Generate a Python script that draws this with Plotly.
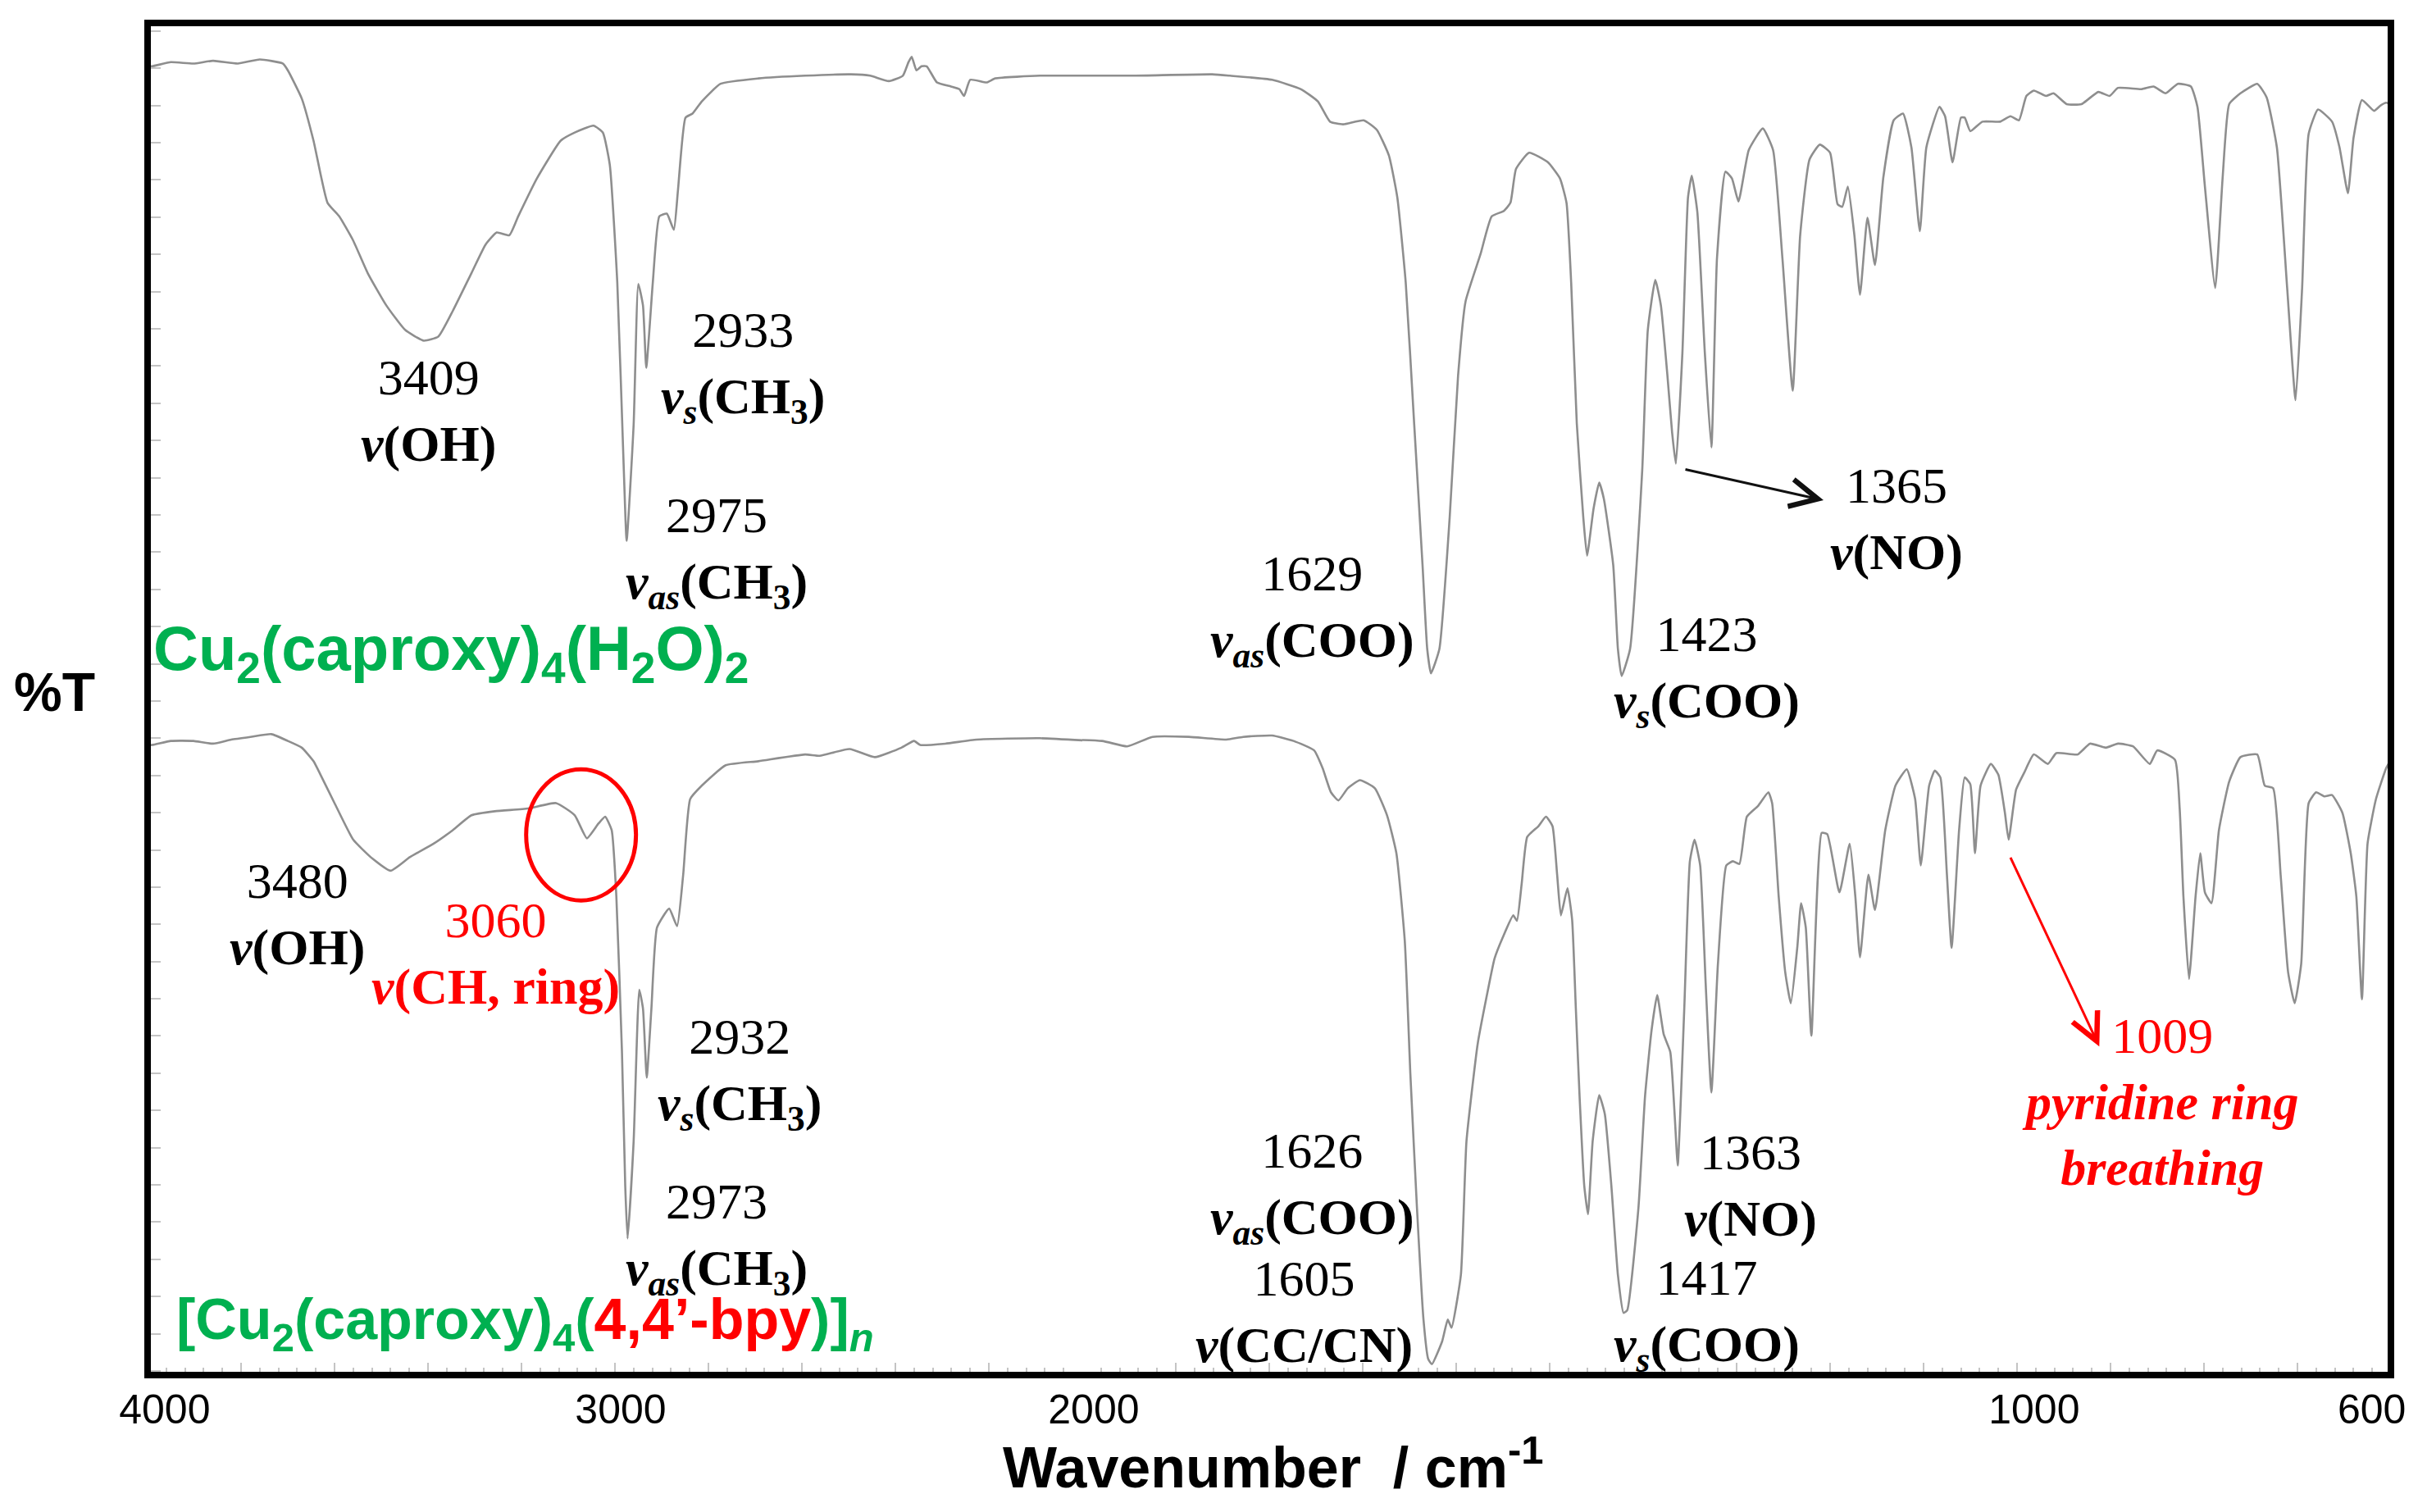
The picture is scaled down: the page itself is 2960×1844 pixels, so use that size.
import plotly.graph_objects as go

# ---------------- data ----------------
# upper spectrum: Cu2(caproxy)4(H2O)2
wn_top = [4000, 3990, 3950, 3902, 3860, 3807, 3760, 3711, 3700, 3670, 3645, 3615, 3590, 3560,
          3529, 3489, 3449, 3409, 3378, 3347, 3307, 3277, 3253, 3226, 3207, 3167, 3116, 3086,
          3046, 3026, 3011, 2995, 2981, 2975, 2960, 2950, 2940, 2933, 2919, 2905, 2889, 2874,
          2865, 2849, 2834, 2814, 2774, 2693, 2593, 2495, 2454, 2414, 2384, 2372, 2365, 2355,
          2344, 2333, 2311, 2281, 2263, 2253, 2240, 2205, 2186, 2091, 2025, 1945, 1861, 1842,
          1797, 1766, 1748, 1735, 1721, 1699, 1685, 1672, 1663, 1654, 1645, 1636, 1631, 1627,
          1618, 1607, 1598, 1590, 1574, 1562, 1549, 1542, 1536, 1522, 1502, 1489, 1482, 1477,
          1471, 1464, 1460, 1453, 1447, 1442, 1432, 1427, 1423, 1414, 1401, 1395, 1387, 1381,
          1374, 1369, 1365, 1358, 1352, 1348, 1342, 1334, 1327, 1321, 1312, 1305, 1298, 1287,
          1272, 1261, 1251, 1240, 1232, 1222, 1211, 1200, 1192, 1187, 1181, 1174, 1168, 1160,
          1152, 1143, 1132, 1122, 1113, 1104, 1097, 1083, 1077, 1069, 1060, 1056, 1050, 1037,
          1018, 1007, 998, 990, 982, 969, 961, 947, 931, 913, 901, 892, 867, 854, 841, 828,
          814, 807, 799, 788, 780, 773, 761, 743, 733, 722, 711, 702, 695, 688, 678, 663, 655,
          646, 640, 631, 618, 611, 605, 600]
t_top = [96.8, 96.8, 97.1, 97.0, 97.2, 97.0, 97.3, 97.0, 96.5, 94.4, 91.3, 86.7, 85.7, 83.9,
         81.5, 79.1, 77.3, 76.5, 76.8, 78.7, 81.5, 83.6, 84.5, 84.3, 85.7, 88.5, 91.3, 91.9,
         92.4, 91.9, 89.5, 80.8, 66.9, 61.7, 70.3, 80.7, 79.1, 74.5, 80.8, 85.7, 85.9, 84.7,
         87.7, 93.0, 93.3, 94.2, 95.5, 95.9, 96.1, 96.2, 96.1, 95.7, 96.1, 97.1, 97.5, 96.5,
         96.8, 96.8, 95.6, 95.3, 95.1, 94.6, 95.8, 95.6, 95.9, 96.1, 96.1, 96.1, 96.2, 96.1,
         95.8, 95.1, 94.2, 92.7, 92.5, 92.8, 92.1, 90.2, 87.1, 80.8, 70.4, 59.9, 53.7, 51.9,
         53.7, 63.4, 73.9, 79.4, 82.9, 85.7, 86.1, 86.7, 89.2, 90.4, 89.7, 88.5, 86.7, 80.8,
         70.4, 63.4, 60.6, 64.1, 66.0, 64.8, 59.9, 53.7, 51.7, 53.7, 66.9, 77.3, 81.0, 79.1,
         73.9, 69.7, 67.4, 75.6, 87.1, 88.7, 86.0, 75.6, 68.6, 82.6, 89.0, 88.5, 86.8, 90.6,
         92.2, 90.6, 82.6, 72.8, 84.3, 89.9, 91.0, 90.4, 86.6, 86.4, 87.9, 84.3, 79.9, 85.6,
         82.1, 88.6, 92.8, 93.3, 90.8, 84.6, 90.8, 93.8, 93.1, 89.7, 93.0, 93.0, 92.0, 92.7,
         92.7, 93.1, 92.8, 94.6, 95.0, 94.6, 94.8, 94.0, 94.0, 94.9, 94.6, 95.2, 95.1, 95.3,
         94.8, 95.5, 95.3, 93.8, 87.9, 80.4, 88.6, 94.0, 94.8, 95.5, 94.5, 90.8, 80.4, 72.1,
         80.4, 91.8, 93.6, 92.7, 90.8, 87.4, 91.5, 94.3, 93.5, 93.9, 94.1, 94.0]

# lower spectrum: [Cu2(caproxy)4(4,4'-bpy)]n
wn_bot = [4000, 3990, 3950, 3902, 3860, 3821, 3780, 3735, 3700, 3670, 3645, 3630, 3600, 3560,
          3519, 3480, 3439, 3388, 3347, 3307, 3257, 3186, 3126, 3086, 3060, 3035, 3021, 3007,
          2997, 2985, 2978, 2973, 2960, 2948, 2940, 2932, 2922, 2910, 2884, 2867, 2854, 2839,
          2814, 2763, 2693, 2593, 2562, 2498, 2444, 2387, 2360, 2347, 2293, 2226, 2091, 1979,
          1952, 1925, 1886, 1846, 1828, 1797, 1774, 1752, 1743, 1734, 1726, 1716, 1703, 1687,
          1674, 1664, 1655, 1649, 1642, 1635, 1630, 1626, 1615, 1609, 1605, 1595, 1589, 1577,
          1568, 1559, 1550, 1539, 1535, 1530, 1524, 1512, 1504, 1497, 1492, 1488, 1481, 1476,
          1472, 1468, 1463, 1459, 1454, 1447, 1441, 1434, 1427, 1421, 1417, 1405, 1398, 1391,
          1385, 1378, 1371, 1366, 1363, 1356, 1350, 1345, 1339, 1333, 1327, 1320, 1311, 1304,
          1297, 1289, 1277, 1266, 1262, 1255, 1248, 1242, 1235, 1231, 1226, 1220, 1209, 1203,
          1190, 1179, 1173, 1168, 1159, 1152, 1141, 1130, 1118, 1109, 1103, 1094, 1088, 1082,
          1075, 1070, 1062, 1056, 1050, 1045, 1039, 1028, 1020, 1013, 1009, 1001, 992, 982,
          967, 958, 935, 922, 905, 892, 876, 858, 850, 831, 826, 822, 816, 809, 804, 799, 792,
          784, 773, 761, 743, 735, 726, 718, 710, 703, 696, 688, 680, 671, 663, 652, 643, 637,
          631, 625, 616, 605, 600]
t_bot = [46.6, 46.6, 46.9, 46.9, 46.7, 47.0, 47.2, 47.4, 46.9, 46.4, 45.4, 44.4, 42.3, 39.6,
         38.2, 37.3, 38.3, 39.3, 40.3, 41.4, 41.7, 41.9, 42.3, 41.4, 39.7, 40.8, 41.3, 40.3,
         35.4, 23.9, 14.0, 10.1, 17.3, 28.5, 27.1, 22.0, 27.1, 33.1, 34.5, 33.2, 37.0, 42.6,
         43.6, 45.1, 45.4, 45.9, 45.8, 46.3, 45.7, 46.4, 46.9, 46.6, 46.7, 47.0, 47.1, 46.9,
         46.5, 47.2, 47.2, 47.0, 47.2, 47.3, 46.9, 46.2, 44.9, 43.1, 42.5, 43.4, 44.0, 43.4,
         41.4, 38.6, 32.1, 22.2, 12.4, 4.1, 1.2, 0.8, 2.5, 4.1, 3.5, 7.4, 17.3, 24.5,
         27.8, 30.8, 32.4, 34.0, 33.6, 36.3, 39.8, 40.6, 41.3, 40.6, 37.0, 34.0, 36.0, 33.7,
         27.1, 20.6, 14.0, 11.9, 17.3, 20.7, 19.3, 14.0, 7.4, 4.6, 4.8, 12.4, 20.6, 25.5,
         28.1, 25.2, 23.9, 18.9, 15.5, 27.1, 38.0, 39.6, 37.7, 28.8, 20.9, 30.4, 37.7, 38.0,
         37.8, 41.3, 42.1, 43.1, 42.3, 35.4, 29.8, 27.5, 31.7, 34.9, 33.1, 25.1, 40.1, 40.0,
         35.7, 39.3, 35.4, 30.9, 37.0, 34.4, 40.3, 43.6, 44.8, 42.6, 37.7, 43.6, 44.7, 44.2,
         37.0, 31.6, 40.3, 44.2, 43.7, 38.6, 43.6, 45.2, 44.4, 41.6, 39.6, 43.3, 44.6, 45.9,
         45.2, 46.0, 45.9, 46.7, 46.4, 46.7, 46.5, 45.2, 46.2, 45.5, 41.9, 35.4, 29.3, 35.4,
         38.6, 35.7, 34.9, 40.3, 43.9, 45.7, 45.9, 43.6, 43.4, 37.0, 29.8, 27.5, 30.4, 42.3,
         43.1, 42.8, 42.9, 41.6, 38.6, 35.4, 27.8, 39.3, 42.6, 44.9, 45.5]

x_labels_hi = [4000, 3000, 2000]   # labelled ticks, 4000-2000 section
x_labels_lo = [1000]               # labelled tick, 2000-600 section (scale expanded x2)
x_label_end = 600                  # right end of the axis, written just inside the frame

SPLIT = 2000
LINE = "#8e8e8e"
TICK = "#c4c4c4"
SERIF = "Liberation Serif, Times New Roman, serif"
SANS = "Liberation Sans, Arial, sans-serif"
GREEN = "#00B050"
RED = "#FF0000"
NB = "\u00a0"
# the labels in the reference sit slightly off their ticks; pad with no-break spaces
pad_hi = {4000: 3, 3000: 1, 2000: 2}
pad_lo = {1000: 3}


def split(wn, t):
    hi = [i for i, w in enumerate(wn) if w >= SPLIT]
    lo = [i for i, w in enumerate(wn) if w <= SPLIT]
    e = min(hi[-1] + 1, len(wn) - 1)
    s = max(lo[0] - 1, 0)
    return (wn[:e + 1], t[:e + 1]), (wn[s:], t[s:])


fig = go.Figure()
for wn, t in [(wn_top, t_top), (wn_bot, t_bot)]:
    (wa, ta), (wb, tb) = split(wn, t)
    for xa, xs, ys in [("x", wa, ta), ("x2", wb, tb)]:
        fig.add_trace(go.Scatter(x=xs, y=ys, xaxis=xa, yaxis="y", mode="lines",
                                 line=dict(color=LINE, width=2.6, shape="spline", smoothing=0.45),
                                 hoverinfo="skip", showlegend=False))

D = 5 / 12  # 4000-2000 occupies 2 units, 2000-600 occupies 2.8 units (x2 expansion)

base = dict(ticks="inside", tickcolor=TICK, tickwidth=2, ticklen=15, showgrid=False,
            zeroline=False, showline=False, anchor="y", automargin=False)
lab_font = dict(family=SANS, size=50, color="black")
fig.update_layout(
    # labelled axes
    xaxis=dict(domain=[0, D], range=[4000, 2000], tickmode="array", tickvals=x_labels_hi,
               ticktext=[NB * pad_hi[v] + str(v) for v in x_labels_hi], tickfont=lab_font,
               ticklabelstandoff=8, ticklabeloverflow="allow",
               minor=dict(tickmode="linear", tick0=0, dtick=40, ticks="inside", ticklen=9,
                          tickcolor=TICK, tickwidth=2, showgrid=False), **base),
    xaxis2=dict(domain=[D, 1], range=[2000, 600], tickmode="array", tickvals=x_labels_lo,
                ticktext=[NB * pad_lo[v] + str(v) for v in x_labels_lo], tickfont=lab_font,
                ticklabelstandoff=8, ticklabeloverflow="allow",
                minor=dict(tickmode="linear", tick0=0, dtick=20, ticks="inside", ticklen=9,
                           tickcolor=TICK, tickwidth=2, showgrid=False), **base),
    # unlabelled long ticks
    xaxis3=dict(overlaying="x", range=[4000, 2000], tickmode="linear", tick0=0, dtick=200,
                showticklabels=False, **base),
    xaxis4=dict(overlaying="x2", range=[2000, 600], tickmode="linear", tick0=0, dtick=100,
                showticklabels=False, **base),
    yaxis=dict(domain=[0, 1], range=[0, 100], anchor="x", showticklabels=False,
               ticks="inside", tickmode="linear", tick0=0.3, dtick=2.753, ticklen=16,
               tickcolor=TICK, tickwidth=2, showgrid=False, zeroline=False, showline=False,
               automargin=False),
    # the page body keeps an 8 px margin: plot area lands at x 180-2916, y 28-1677 of the window
    width=2960, height=1844,
    margin=dict(l=172, r=52, t=20, b=175),
    paper_bgcolor="white", plot_bgcolor="white",
)
# invisible helper traces so the overlay tick axes are drawn
fig.add_trace(go.Scatter(x=[3000], y=[50], xaxis="x3", yaxis="y", mode="markers",
                         marker=dict(opacity=0), hoverinfo="skip", showlegend=False))
fig.add_trace(go.Scatter(x=[1000], y=[50], xaxis="x4", yaxis="y", mode="markers",
                         marker=dict(opacity=0), hoverinfo="skip", showlegend=False))

# end label of the axis (600), right-aligned so it stays inside the picture
fig.add_annotation(xref="x2", yref="paper", x=x_label_end, y=-0.0255, xanchor="right",
                   yanchor="middle", showarrow=False, text=str(x_label_end), xshift=20,
                   font=lab_font)

# frame
fig.add_shape(type="rect", xref="paper", yref="paper", x0=0, x1=1, y0=0, y1=1,
              line=dict(color="black", width=8), layer="above")
# red circle around the 3060 band
fig.add_shape(type="circle", xref="x", yref="y", x0=3190, x1=2955, y0=35.1, y1=44.8,
              line=dict(color=RED, width=5))

NU = "<i>ν</i>"


def lab(core, sub=None):
    s = NU + (f"<sub><i>{sub}</i></sub>" if sub else "")
    return f"<b>{s}{core}</b>"


CH3 = "(CH<sub>3</sub>)"
notes = [
    # (axis, wn, T, text, colour)
    ("x", 3400, 71.3, "3409<br>" + lab("(OH)"), "black"),
    ("x", 2726, 74.6, "2933<br>" + lab(CH3, "s"), "black"),
    ("x", 2782, 60.9, "2975<br>" + lab(CH3, "as"), "black"),
    ("x2", 1754, 56.6, "1629<br>" + lab("(COO)", "as"), "black"),
    ("x2", 1332, 52.1, "1423<br>" + lab("(COO)", "s"), "black"),
    ("x2", 1129, 63.3, "1365<br>" + lab("(NO)"), "black"),
    ("x", 3680, 34.1, "3480<br>" + lab("(OH)"), "black"),
    ("x", 3256, 31.2, "3060<br>" + lab("(CH, ring)"), RED),
    ("x", 2733, 22.3, "2932<br>" + lab(CH3, "s"), "black"),
    ("x", 2782, 10.1, "2973<br>" + lab(CH3, "as"), "black"),
    ("x2", 1754, 13.9, "1626<br>" + lab("(COO)", "as"), "black"),
    ("x2", 1763, 4.7, "1605<br>" + lab("(CC/CN)"), "black"),
    ("x2", 1285, 14.0, "1363<br>" + lab("(NO)"), "black"),
    ("x2", 1332, 4.5, "1417<br>" + lab("(COO)", "s"), "black"),
    ("x2", 847, 20.2, "1009<br><b><i>pyridine ring<br>breathing</i></b>", RED),
]
for ax, x, y, txt, col in notes:
    fig.add_annotation(xref=ax, yref="y", x=x, y=y, text=txt, showarrow=False,
                       font=dict(family=SERIF, size=62, color=col), align="center",
                       xanchor="center", yanchor="middle")

# compound names
fig.add_annotation(xref="x", yref="y", x=3992, y=53.4, xanchor="left", yanchor="middle",
                   showarrow=False,
                   text="<b>Cu<sub>2</sub>(caproxy)<sub>4</sub>(H<sub>2</sub>O)<sub>2</sub></b>",
                   font=dict(family=SANS, size=76, color=GREEN))
fig.add_annotation(xref="x", yref="y", x=3942, y=3.8, xanchor="left", yanchor="middle",
                   showarrow=False,
                   text=("<b>[Cu<sub>2</sub>(caproxy)<sub>4</sub>(<span style='color:" + RED +
                         "'>4,4’-bpy</span>)]<sub><i>n</i></sub></b>"),
                   font=dict(family=SANS, size=70, color=GREEN))

# arrows
fig.add_annotation(xref="x2", yref="y", x=1207, y=64.7, ax=-170, ay=-38, text="",
                   showarrow=True, arrowhead=5, arrowsize=2.2, arrowwidth=3, arrowcolor="#111111")
fig.add_annotation(xref="x2", yref="y", x=912, y=24.3, ax=-109, ay=-232, text="",
                   showarrow=True, arrowhead=5, arrowsize=2.2, arrowwidth=3, arrowcolor=RED)

# axis titles
fig.add_annotation(xref="paper", yref="paper", x=-0.0416, y=0.505, showarrow=False,
                   text="<b>%T</b>", font=dict(family=SANS, size=66, color="black"),
                   xanchor="center", yanchor="middle")
fig.add_annotation(xref="paper", yref="paper", x=0.502, y=-0.0655, showarrow=False,
                   text="<b>Wavenumber  / cm<sup>-1</sup></b>",
                   font=dict(family=SANS, size=70, color="black"),
                   xanchor="center", yanchor="middle")

fig.write_html("out.html")
